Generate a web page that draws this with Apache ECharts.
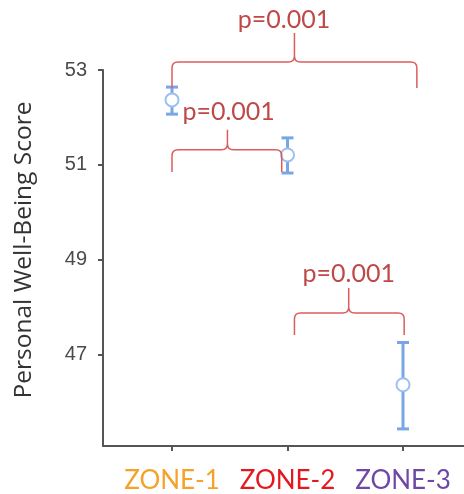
<!DOCTYPE html>
<html>
<head>
<meta charset="utf-8">
<script src="https://cdn.jsdelivr.net/npm/echarts@6/dist/echarts.min.js"></script>
<style>
  html, body { margin: 0; padding: 0; background: #fff; }
  #scoreChart { width: 464px; height: 494px; }
</style>
</head>
<body>
<div id="scoreChart"></div>
<script>
  // zones on the x axis
  const zones = ['ZONE-1', 'ZONE-2', 'ZONE-3'];
  const zoneColors = ['#f4a229', '#e3191f', '#6f48a6'];

  // mean score and error bar ends
  const means = [52.37, 51.21, 46.37];
  const upper = [52.64, 51.57, 47.26];
  const lower = [52.07, 50.83, 45.44];

  const yTicks = [47, 49, 51, 53];

  // comparison brackets (x in zone index units, y in score units)
  const pairLeft = [1, 1, 2.06];
  const pairRight = [3.12, 1.95, 3.01];
  const pairMid = [2.06, 1.48, 2.53];
  const barLevel = [53.17, 51.32, 47.88];
  const legEnd = [52.62, 50.85, 47.42];
  const tipLevel = [53.78, 51.74, 48.41];
  const labelX = [1.97, 1.49, 2.53];
  const labelY = [54.05, 52.12, 48.7];
  const pValues = ['p=0.001', 'p=0.001', 'p=0.001'];

  const myChart = echarts.init(document.getElementById('scoreChart'));

  const errData = zones.map((z, i) => [i + 1, lower[i], upper[i]]);
  const meanData = zones.map((z, i) => [i + 1, means[i]]);
  const braceData = pValues.map((p, i) => [
    pairLeft[i], pairRight[i], pairMid[i], barLevel[i], legEnd[i], tipLevel[i], labelX[i], labelY[i]
  ]);

  const rich = {};
  zones.forEach((z, i) => {
    rich['z' + i] = { color: zoneColors[i], fontFamily: 'Lato', fontSize: 26 };
  });

  const option = {
    animation: false,
    grid: { left: 103, right: 0, top: 70, bottom: 48 },
    xAxis: {
      type: 'value',
      min: 0.4026,
      max: 3.528,
      splitLine: { show: false },
      axisLine: { show: true, lineStyle: { color: '#555', width: 2 } },
      axisTick: { show: true, customValues: [1, 2, 3], length: 5, lineStyle: { color: '#555', width: 2 } },
      axisLabel: {
        customValues: [1, 2, 3],
        margin: 22,
        formatter: (v) => {
          const i = Math.round(v) - 1;
          return '{z' + i + '|' + zones[i] + '}';
        },
        rich: rich,
      },
    },
    yAxis: {
      type: 'value',
      min: 45.08,
      max: 53,
      splitLine: { show: false },
      axisLine: { show: true, lineStyle: { color: '#555', width: 2 } },
      axisTick: { show: true, customValues: yTicks, length: 5, lineStyle: { color: '#555', width: 2 } },
      axisLabel: {
        customValues: yTicks,
        margin: 16,
        color: '#4a4a4a',
        fontFamily: 'Liberation Sans',
        fontSize: 20,
      },
      name: 'Personal Well-Being Score',
      nameLocation: 'middle',
      nameGap: 66,
      nameRotate: 90,
      nameTextStyle: { fontFamily: 'Open Sans', fontSize: 24.5, color: '#333', padding: [0, 0, 0, 16] },
    },
    series: [
      {
        type: 'custom',
        data: errData,
        z: 2,
        renderItem: (params, api) => {
          const top = api.coord([api.value(0), api.value(2)]);
          const bot = api.coord([api.value(0), api.value(1)]);
          const half = 6;
          const style = { stroke: '#79a6e6', lineWidth: 3, fill: null };
          return {
            type: 'group',
            children: [
              { type: 'line', shape: { x1: top[0], y1: top[1], x2: bot[0], y2: bot[1] }, style: style },
              { type: 'line', shape: { x1: top[0] - half, y1: top[1], x2: top[0] + half, y2: top[1] }, style: style },
              { type: 'line', shape: { x1: bot[0] - half, y1: bot[1], x2: bot[0] + half, y2: bot[1] }, style: style },
            ],
          };
        },
      },
      {
        type: 'scatter',
        data: meanData,
        z: 3,
        symbol: 'circle',
        symbolSize: 13,
        itemStyle: { color: '#fff', borderColor: '#9cc0f0', borderWidth: 2, opacity: 1 },
      },
      {
        type: 'custom',
        data: braceData,
        z: 4,
        clip: false,
        renderItem: (params, api) => {
          const i = params.dataIndex;
          const l = api.coord([api.value(0), api.value(3)]);
          const r = api.coord([api.value(1), api.value(3)]);
          const m = api.coord([api.value(2), api.value(3)]);
          const yEnd = api.coord([api.value(0), api.value(4)])[1];
          const yTip = api.coord([api.value(0), api.value(5)])[1];
          const t = api.coord([api.value(6), api.value(7)]);
          const y = l[1];
          const rad = 6;
          const d = [
            'M', l[0], yEnd,
            'L', l[0], y + rad,
            'Q', l[0], y, l[0] + rad, y,
            'L', m[0] - rad, y,
            'Q', m[0], y, m[0], y - rad,
            'L', m[0], yTip,
            'M', m[0], y - rad,
            'Q', m[0], y, m[0] + rad, y,
            'L', r[0] - rad, y,
            'Q', r[0], y, r[0], y + rad,
            'L', r[0], yEnd,
          ].join(' ');
          return {
            type: 'group',
            children: [
              { type: 'path', shape: { pathData: d }, style: { stroke: '#dd5c5c', lineWidth: 1.5, fill: null } },
              {
                type: 'text',
                x: t[0], y: t[1],
                style: {
                  text: pValues[i],
                  fill: '#bf4848',
                  font: '25px Lato',
                  align: 'center',
                  verticalAlign: 'middle',
                },
              },
            ],
          };
        },
      },
    ],
  };

  myChart.setOption(option);
</script>
</body>
</html>
